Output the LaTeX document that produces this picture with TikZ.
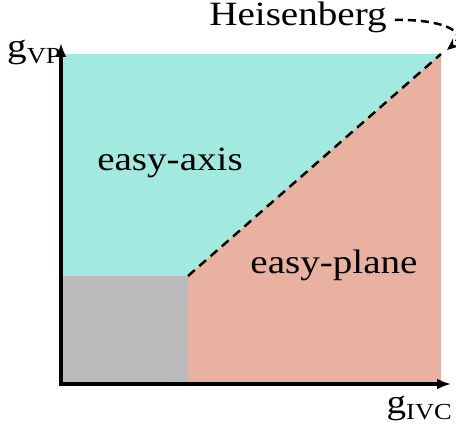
\documentclass[tikz,border=0pt]{standalone}
\usepackage{fontspec}
\setmainfont{Liberation Serif}
\usetikzlibrary{arrows.meta}
\definecolor{axisfill}{RGB}{162,233,224}
\definecolor{planefill}{RGB}{233,178,160}
\definecolor{lowfill}{RGB}{187,187,187}
\tikzset{
  lbl/.style={inner sep=0pt, font=\fontsize{34}{34}\selectfont, xscale=1.15},
  axisline/.style={line width=4pt, -{Latex[length=14pt,width=11pt]}},
  border/.style={black, line width=2.5pt, dash pattern=on 9pt off 6pt},
}
\begin{document}
\begin{tikzpicture}[x=1pt,y=1pt]
\useasboundingbox (0,0) rectangle (456,431);
\coordinate (O) at (62,47);
\coordinate (TR) at (441,377);
\coordinate (G) at (188,155);
\fill[axisfill] (O) rectangle (TR);
\fill[planefill] (188,47) -- (G) -- (TR) -- (441,47) -- cycle;
\fill[lowfill] (O) rectangle (G);
\draw[border] (G) -- (TR);
\coordinate (yend) at (61,388);
\coordinate (xend) at (451,47);
\coordinate (O2) at (61,47);
\draw[axisline] ([yshift=-2pt]O2) -- (yend);
\draw[axisline] ([xshift=-2pt]O2) -- (xend);
\node[lbl] (ea) at (170,268) {easy-axis};
\node[lbl] (ep) at (334,166) {easy-plane};
\node[lbl] (hb) at (298,414) {Heisenberg};
\node[lbl, anchor=base west] (gvp) at (7,373) {g\raisebox{-6pt}{\fontsize{23}{23}\selectfont VP}};
\node[lbl, anchor=base east] (givc) at (452,17) {g\raisebox{-6pt}{\fontsize{23}{23}\selectfont IVC}};
\coordinate (htip) at (447,381);
\draw[line width=2.5pt, dash pattern=on 8pt off 5pt, -{Stealth[length=12pt,width=10pt]}]
  (hb.east) ++(8pt,-3pt) .. controls (440,412) and (470,400) .. (htip);
\end{tikzpicture}
\end{document}
